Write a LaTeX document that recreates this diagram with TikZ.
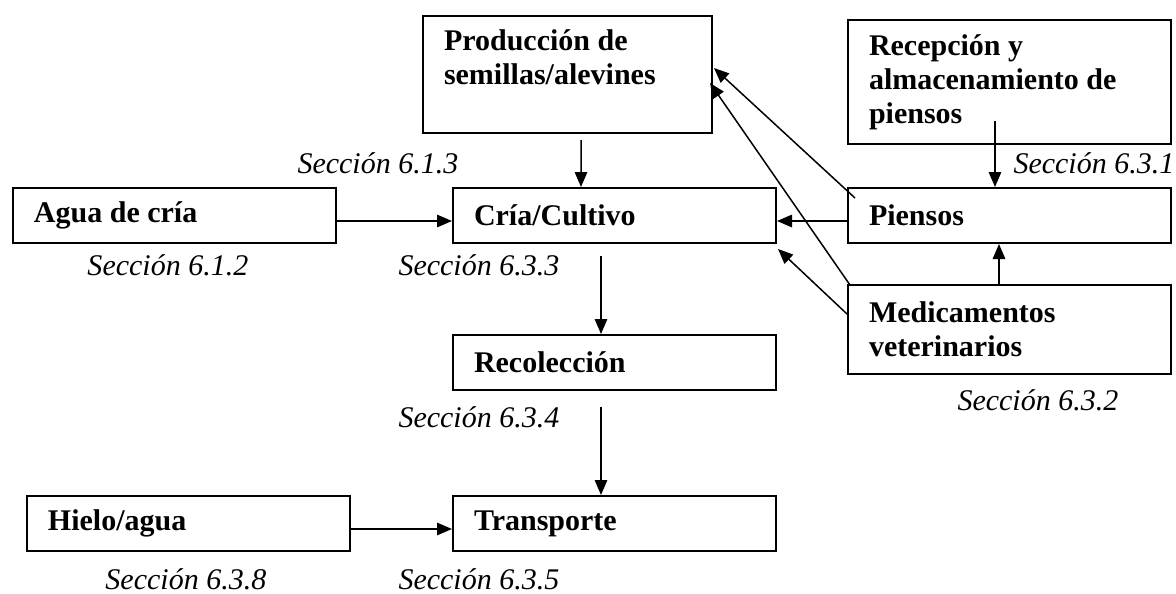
\documentclass[tikz,border=0pt]{standalone}
\usepackage{fontspec}
\setmainfont{Liberation Serif}
\usepackage{tikz}
\usetikzlibrary{arrows.meta}

\begin{document}
\begin{tikzpicture}[x=0.4pt, y=-0.4pt, >={Triangle[length=6pt,width=5pt]},
	box/.style = {draw, line width=0.8pt, anchor=north west, align=flush left, inner xsep=8.4pt, inner ysep=0pt, text width=112.4pt, minimum height=22pt, font=\fontsize{12}{13.6}\selectfont\bfseries},
	sec/.style = {anchor=west, inner sep=0pt, font=\fontsize{12}{13.6}\selectfont\itshape},
	link/.style = {->, line width=0.6pt}]
	\useasboundingbox[fill=white] (0,0) rectangle (1176,594);
	\node[box, text width=98.8pt, minimum height=46.8pt] (prod) at (422,15) {Producción de\\semillas/alevines\\\mbox{}};
	\node[box, minimum height=49.6pt] (recep) at (847,19) {Recepción y\\almacenamiento de\\piensos};
	\node[box] (agua) at (12,187) {Agua de cría};
	\node[box] (cria) at (452,187) {Cría/Cultivo};
	\node[box] (piensos) at (847,187) {Piensos};
	\node[box, minimum height=35.6pt] (medic) at (847,284) {Medicamentos\\veterinarios};
	\node[box] (recol) at (452,334) {Recolección};
	\node[box] (transp) at (452,495) {Transporte};
	\node[box] (hielo) at (26,495) {Hielo/agua};
	\node[sec] (s613) at (297,163) {Sección 6.1.3};
	\node[sec] (s612) at (87,265) {Sección 6.1.2};
	\node[sec] (s633) at (398,265) {Sección 6.3.3};
	\node[sec] (s634) at (398,417) {Sección 6.3.4};
	\node[sec] (s638) at (105,579) {Sección 6.3.8};
	\node[sec] (s635) at (398,579) {Sección 6.3.5};
	\node[sec] (s631) at (1013,163) {Sección 6.3.1};
	\node[sec] (s632) at (957,400) {Sección 6.3.2};
	\draw[link] ([shift={(13.5,6)}]prod.south) -- ([shift={(-33.5,0)}]cria.north);
	\draw[link] ([shift={(0,5.5)}]agua.east) -- ([shift={(0,5.5)}]cria.west);
	\draw[link] ([shift={(0,5.5)}]piensos.west) -- ([shift={(0,5.5)}]cria.east);
	\draw[link] ([shift={(-14.5,-24)}]recep.south) -- ([shift={(-14.5,0)}]piensos.north);
	\draw[link] ([shift={(-10.5,0)}]medic.north) -- ([shift={(-10.5,0)}]piensos.south);
	\draw[link] ([shift={(8,11)}]piensos.north west) -- ([shift={(1,-6.5)}]prod.east);
	\draw[link] ([shift={(3,1)}]medic.north west) -- ([shift={(-3,8.5)}]prod.east);
	\draw[link] ([shift={(0,-15.5)}]medic.west) -- ([shift={(1,5)}]cria.south east);
	\draw[link] ([shift={(-13.5,12)}]cria.south) -- ([shift={(-13.5,0)}]recol.north);
	\draw[link] ([shift={(-13.5,16)}]recol.south) -- ([shift={(-13.5,0)}]transp.north);
	\draw[link] ([shift={(0,5.5)}]hielo.east) -- ([shift={(0,5.5)}]transp.west);
\end{tikzpicture}
\end{document}
